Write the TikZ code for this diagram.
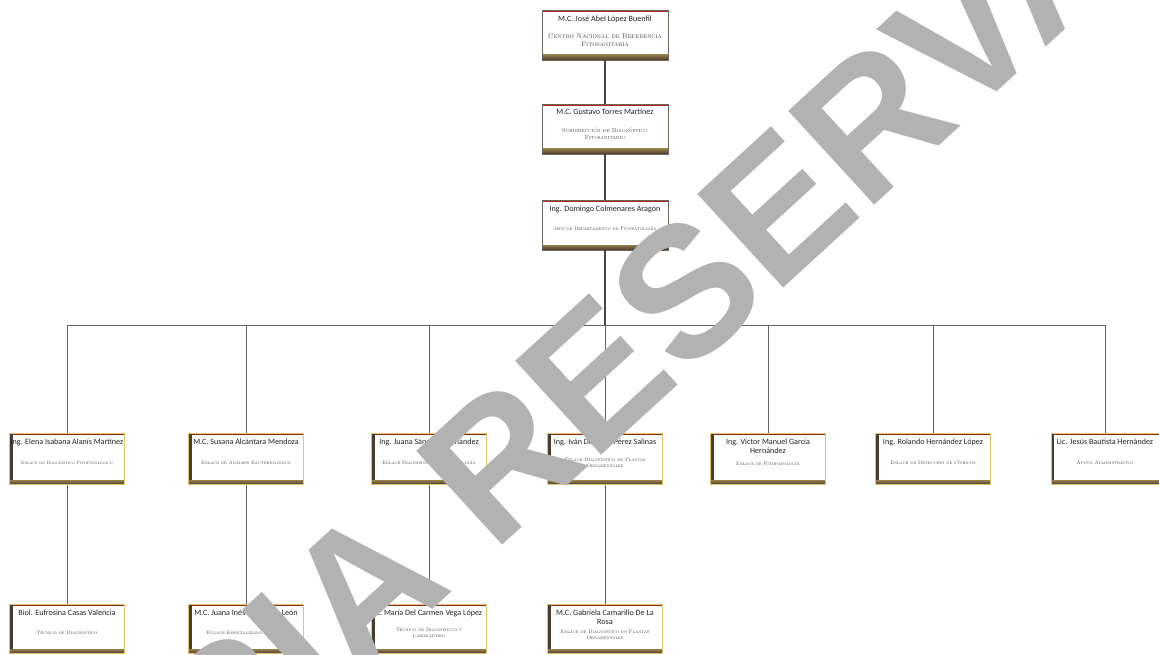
\documentclass[tikz,border=0pt]{standalone}
\usepackage{fontspec}
\newfontfamily\namefont{Carlito}
\newfontfamily\wmfont{Liberation Sans}
\usetikzlibrary{calc}
\definecolor{cardgold}{RGB}{226,196,108}
\definecolor{carddark}{RGB}{72,60,46}
\definecolor{cardred}{RGB}{172,42,36}
\definecolor{cardside}{RGB}{110,100,90}
\definecolor{linecol}{RGB}{70,70,70}
\definecolor{namecol}{RGB}{35,35,35}
\definecolor{subcol}{RGB}{70,70,70}
\definecolor{wmgray}{RGB}{178,178,178}
\tikzset{
  card/.style={rectangle, fill=white, line width=0.7pt, inner sep=2pt, align=center,
    text=subcol, font=\fontsize{5}{6}\selectfont\scshape},
  topcard/.style={card, draw=cardside, minimum width=126pt, minimum height=50pt,
    path picture={
      \fill[cardred] (path picture bounding box.north west) rectangle ([yshift=-1.6pt]path picture bounding box.north east);
      \shade[top color=carddark!55!cardgold, bottom color=carddark] (path picture bounding box.south west) rectangle ([yshift=5pt]path picture bounding box.south east);
    }},
  rowcard/.style={card, draw=cardgold, minimum width=115pt, minimum height=51pt,
    path picture={
      \fill[cardred!70!carddark] (path picture bounding box.north west) rectangle ([yshift=-1.2pt]path picture bounding box.north east);
      \fill[carddark] (path picture bounding box.north west) rectangle ([xshift=3pt]path picture bounding box.south west);
      \shade[top color=carddark!50!cardgold, bottom color=carddark] (path picture bounding box.south west) rectangle ([yshift=4.5pt]path picture bounding box.south east);
    }},
  who/.style={label={[anchor=north, yshift=-2.2pt, align=center, text=namecol,
    font=\namefont\fontsize{8.1}{8.6}\selectfont]north:{#1}}},
  trunk/.style={draw=linecol, line width=1.3pt},
  branch/.style={draw=linecol!85, line width=0.8pt},
  wmark/.style={text=wmgray, font=\wmfont\bfseries\fontsize{185}{185}\selectfont, inner sep=0pt}
}
\begin{document}
\begin{tikzpicture}[x=1pt,y=-1pt]
\useasboundingbox (0,0) rectangle (1159,655);
% top chain
\node[topcard, who={M.C. José Abel López Buenfil}, font=\fontsize{6.9}{7.8}\selectfont\scshape] (b1) at (605,35) {\rule{0pt}{8pt}\\Centro Nacional de Referencia\\Fitosanitaria};
\node[topcard, who={M.C. Gustavo Torres Martínez}, font=\fontsize{5.8}{6.6}\selectfont\scshape] (b2) at (605,129) {\rule{0pt}{7pt}\\Subdirección de Diagnóstico\\Fitosanitario};
\node[topcard, who={Ing. Domingo Colmenares Aragón}] (b3) at (605,225) {\rule{0pt}{6pt}\\Jefe de Departamento de Fitopatología};
% middle row
\node[rowcard, who={Ing. Elena Isabana Alanís Martínez}, font=\fontsize{4.6}{5.6}\selectfont\scshape] (m1) at (67,459) {\rule{0pt}{6pt}\\Enlace de Diagnóstico Fitopatológico};
\node[rowcard, who={M.C. Susana Alcántara Mendoza}] (m2) at (246,459) {\rule{0pt}{6pt}\\Enlace de Análisis Bacteriológico};
\node[rowcard, who={Ing. Juana Sánchez Hernández}] (m3) at (429,459) {\rule{0pt}{6pt}\\Enlace Diagnóstico en Nematología};
\node[rowcard, who={Ing. Iván De Jesús Pérez Salinas}] (m4) at (605,459) {\rule{0pt}{6pt}\\Enlace Diagnóstico de Plantas\\Ornamentales};
\node[rowcard, who={Ing. Víctor Manuel García\\Hernández}] (m5) at (768,459) {\rule{0pt}{8pt}\\Enlace de Fitopatología};
\node[rowcard, who={Ing. Rolando Hernández López}] (m6) at (933,459) {\rule{0pt}{6pt}\\Enlace de Detección de Cítricos};
\node[rowcard, minimum width=108pt, who={Lic. Jesús Bautista Hernández}] (m7) at (1105,459) {\rule{0pt}{6pt}\\Apoyo Administrativo};
% bottom row
\node[rowcard, minimum height=49pt, who={Biol. Eufrosina Casas Valencia}] (l1) at (67,629) {\rule{0pt}{6pt}\\Técnico de Diagnóstico};
\node[rowcard, minimum height=49pt, who={M.C. Juana Inés Rodríguez León}] (l2) at (246,629) {\rule{0pt}{6pt}\\Enlace Especializado de Virus};
\node[rowcard, minimum height=49pt, who={C. María Del Carmen Vega López}] (l3) at (429,629) {\rule{0pt}{6pt}\\Técnico de Diagnóstico y\\Laboratorio};
\node[rowcard, minimum height=49pt, who={M.C. Gabriela Camarillo De La\\Rosa}] (l4) at (605,629) {\rule{0pt}{9pt}\\Enlace de Diagnóstico en Plantas\\Ornamentales};
% connectors
\coordinate (bus) at (605,325);
\draw[trunk] (b1.south) -- (b2.north);
\draw[trunk] (b2.south) -- (b3.north);
\draw[trunk] (b3.south) -- (bus);
\draw[branch] (bus) -- (m4.north);
\draw[branch] (m1.north |- bus) -- (m7.north |- bus);
\foreach \m in {m1,m2,m3,m5,m6,m7} {\draw[branch] (\m.north |- bus) -- (\m.north);}
\draw[branch] (m1.south) -- (l1.north);
\draw[branch] (m2.south) -- (l2.north);
\draw[branch] (m3.south) -- (l3.north);
\draw[branch] (m4.south) -- (l4.north);
% watermark
\node[wmark, rotate=42.5] (wm) at (638,335) {COPIA RESERVADA};
\end{tikzpicture}
\end{document}
